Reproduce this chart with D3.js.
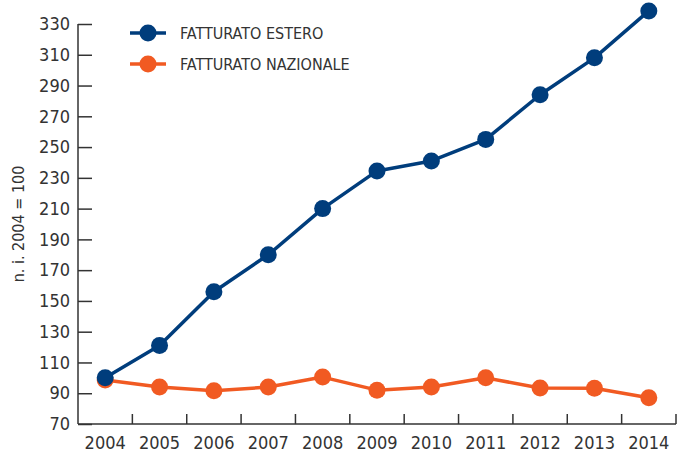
<!DOCTYPE html>
<meta charset="utf-8">
<style>
body { margin: 0; background: #fff; }
text { font-family: "Liberation Sans Narrow", "DejaVu Sans Condensed", "DejaVu Sans", sans-serif; font-stretch: condensed; fill: #333; }
</style>
<svg></svg>
<script src="https://d3js.org/d3.v7.min.js"></script>
<script>

var years = ["2004", "2005", "2006", "2007", "2008", "2009", "2010", "2011", "2012", "2013", "2014"];
var estero = [100, 121, 156, 180, 210, 234.5, 241, 255, 284, 308, 338.5];
var nazionale = [98.6, 94, 91.6, 94, 100.5, 92, 94, 100, 93.4, 93.3, 87];
var yTicks = [70, 90, 110, 130, 150, 170, 190, 210, 230, 250, 270, 290, 310, 330];

var width = 678, height = 452;
var mLeft = 78, mRight = 676, mTop = 24, mBottom = 424;
var ink = "#333";

var svg = d3.select("svg")
    .attr("width", width)
    .attr("height", height);

var x = d3.scaleBand()
    .domain(years)
    .range([mLeft, mRight]);

var y = d3.scaleLinear()
    .domain([70, 330])
    .range([mBottom, mTop]);

// y axis, ticks pointing inward
var yAxis = svg.append("g")
    .attr("transform", "translate(" + mLeft + ",0)")
    .call(d3.axisLeft(y).tickValues(yTicks).tickSize(-14).tickSizeOuter(0).tickPadding(8));
yAxis.select(".domain").remove();
yAxis.selectAll("line").attr("stroke", ink).attr("stroke-width", 1.5);
yAxis.append("line").attr("y1", mTop).attr("y2", mBottom).attr("stroke", ink).attr("stroke-width", 1.5);
yAxis.selectAll("text").attr("font-size", 18).attr("fill", ink).attr("font-family", null);

// x axis: ticks at band boundaries
var xg = svg.append("g");
xg.append("line")
    .attr("x1", mLeft).attr("x2", mRight)
    .attr("y1", mBottom).attr("y2", mBottom)
    .attr("stroke", ink).attr("stroke-width", 1.5);
xg.selectAll(".tk")
    .data(years.slice(1).concat(["end"]))
    .enter().append("line")
    .attr("x1", function(d) { return d == "end" ? mRight : x(d); })
    .attr("x2", function(d) { return d == "end" ? mRight : x(d); })
    .attr("y1", mBottom).attr("y2", mBottom - 10)
    .attr("stroke", ink).attr("stroke-width", 1.5);
xg.selectAll(".lbl")
    .data(years)
    .enter().append("text")
    .attr("x", function(d) { return x(d) + x.bandwidth() / 2; })
    .attr("y", mBottom + 25)
    .attr("text-anchor", "middle")
    .attr("font-size", 18)
    .text(function(d) { return d; });

svg.append("text")
    .attr("transform", "translate(24," + (y(200)) + ") rotate(-90)")
    .attr("text-anchor", "middle")
    .attr("font-size", 16)
    .text("n. i. 2004 = 100");

var series = [
  { name: "FATTURATO ESTERO", values: estero, color: "#003d7c" },
  { name: "FATTURATO NAZIONALE", values: nazionale, color: "#f15a22" }
];

var line = d3.line()
    .x(function(d, i) { return x(years[i]) + x.bandwidth() / 2; })
    .y(function(d) { return y(d); });

// draw nazionale first so estero sits on top
series.slice().reverse().forEach(function(s) {
  var g = svg.append("g");
  g.append("path")
      .attr("d", line(s.values))
      .attr("fill", "none")
      .attr("stroke", s.color)
      .attr("stroke-width", 3.5)
      .attr("stroke-linejoin", "round");
  g.selectAll("circle")
      .data(s.values)
      .enter().append("circle")
      .attr("cx", function(d, i) { return x(years[i]) + x.bandwidth() / 2; })
      .attr("cy", function(d) { return y(d); })
      .attr("r", 8.5)
      .attr("fill", s.color);
});

// legend
var legend = svg.selectAll(".legend")
    .data(series)
    .enter().append("g")
    .attr("transform", function(d, i) { return "translate(130," + (33 + i * 31) + ")"; });
legend.append("line")
    .attr("x1", 0).attr("x2", 36)
    .attr("stroke", function(d) { return d.color; })
    .attr("stroke-width", 3.5);
legend.append("circle")
    .attr("cx", 18).attr("r", 8.5)
    .attr("fill", function(d) { return d.color; });
legend.append("text")
    .attr("x", 50).attr("y", 6)
    .attr("font-size", 16)
    .text(function(d) { return d.name; });

</script>
